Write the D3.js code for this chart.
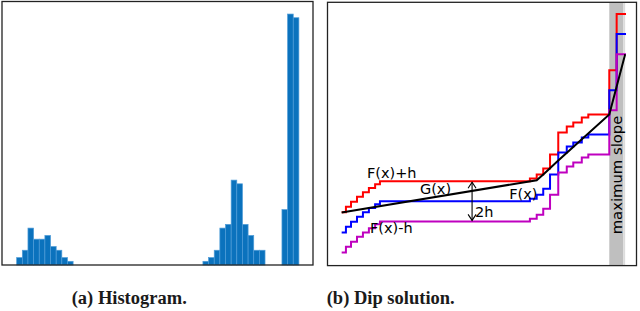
<!DOCTYPE html>
<html>
<head>
<meta charset="utf-8">
<script src="https://cdn.jsdelivr.net/npm/d3@7"></script>
<style>
body{margin:0;background:#fff;}
.caption{font-family:"Liberation Serif",serif;font-weight:bold;font-size:18.5px;fill:#1a1a1a;}
.lbl{font-family:"DejaVu Sans",sans-serif;font-size:14.5px;fill:#000;}
</style>
</head>
<body>
<div id="chart"></div>
<script>
// histogram counts per bin (50 bins)
var histCounts=[2,4,10,7,7,8,5,4,2,1,
    0,0,0,0,0,0,0,0,0,0,0,0,0,0,0,0,0,0,0,0,0,0,0,
    1,2,4,10,11,23,22,11,8,4,4,
    0,0,0,
    15,68,67];

// empirical cdf F(x), step after each x
var ecdfX=[0,1.5,3.3,5.4,7.5,9.6,11.8,13.5,66.4,68.8,71.1,73.5,76.4,79.4,81.7,84.7,87.0,94.4,97.0,100.3];
var ecdfF=[0.012,0.04,0.065,0.09,0.112,0.133,0.152,0.1667,0.18,0.20,0.23,0.30,0.41,0.44,0.46,0.485,0.50,0.72,1.0,1.0];
var hValue=0.1;

// unimodal fit G(x)
var gX=[0,68.8,71.5,76.4,94.4,100];
var gF=[0.111,0.272,0.305,0.37,0.60,0.90];

// maximum slope interval
var bandX=[94.4,99.3];

var captions=['(a) Histogram.','(b) Dip solution.'];

var svg=d3.select('#chart').append('svg')
    .attr('width',640)
    .attr('height',311);

/* ---- (a) histogram ---- */
var hx=d3.scaleLinear().domain([-2.6,52.5]).range([2,313]);
var hy=d3.scaleLinear().domain([0,71.4]).range([265,1.5]);

var bins=histCounts.map(function(c,i){return {i:i,c:c};}).filter(function(d){return d.c>0;});

svg.append('g').selectAll('rect')
    .data(bins)
    .enter()
    .append('rect')
    .attr('x',function(d){return hx(d.i);})
    .attr('y',function(d){return hy(d.c);})
    .attr('width',function(d){return hx(d.i+1)-hx(d.i);})
    .attr('height',function(d){return hy(0)-hy(d.c);})
    .attr('fill','#0b72bd')
    .attr('stroke','#4f9cd8')
    .attr('stroke-width',0.7);

svg.append('rect')
    .attr('x',2).attr('y',1.5)
    .attr('width',311).attr('height',263.5)
    .attr('fill','none')
    .attr('stroke','#222')
    .attr('stroke-width',1.3);

/* ---- (b) dip solution ---- */
var dx=d3.scaleLinear().domain([-5,104]).range([327.5,636.5]);
var dy=d3.scaleLinear().domain([-0.153,1.16]).range([265.5,2]);

var g=svg.append('g');

g.append('rect')
    .attr('x',dx(bandX[0]))
    .attr('y',dy(1.16)+1)
    .attr('width',dx(bandX[1])-dx(bandX[0]))
    .attr('height',dy(-0.153)-dy(1.16)-1)
    .attr('fill','#bfbfbf');
g.append('rect')
    .attr('x',dx(bandX[1]))
    .attr('y',dy(1.16)+1)
    .attr('width',dx(100)-dx(bandX[1]))
    .attr('height',dy(-0.153)-dy(1.16)-1)
    .attr('fill','#dcdcdc');

var pts=ecdfX.map(function(x,i){return {x:x,f:ecdfF[i]};});

function stepLine(off){
    return d3.line()
        .x(function(d){return dx(d.x);})
        .y(function(d){return dy(d.f+off);})
        .curve(d3.curveStepAfter);
}

var series=[
    {off:hValue,color:'#ff0000'},
    {off:0,color:'#0000ff'},
    {off:-hValue,color:'#bf00bf'}
];
series.forEach(function(s){
    g.append('path')
        .datum(pts)
        .attr('d',stepLine(s.off))
        .attr('fill','none')
        .attr('stroke',s.color)
        .attr('stroke-width',2);
});

var gPts=gX.map(function(x,i){return {x:x,f:gF[i]};});
g.append('path')
    .datum(gPts)
    .attr('d',d3.line()
        .x(function(d){return dx(d.x);})
        .y(function(d){return dy(d.f);}))
    .attr('fill','none')
    .attr('stroke','#000')
    .attr('stroke-width',2);

// double arrow 2h
var ax=dx(46.0), aTop=dy(0.1667+hValue), aBot=dy(0.1667-hValue);
g.append('line')
    .attr('x1',ax).attr('x2',ax)
    .attr('y1',aTop+1).attr('y2',aBot-1)
    .attr('stroke','#000').attr('stroke-width',1.1);
g.append('path')
    .attr('d','M'+(ax-4)+','+(aTop+7)+'L'+ax+','+(aTop+1)+'L'+(ax+4)+','+(aTop+7)
        +'M'+(ax-4)+','+(aBot-7)+'L'+ax+','+(aBot-1)+'L'+(ax+4)+','+(aBot-7))
    .attr('fill','none')
    .attr('stroke','#000')
    .attr('stroke-width',1.1);

var labels=[
    {t:'F(x)+h',x:8.9,f:0.283},
    {t:'G(x)',x:27.6,f:0.203},
    {t:'F(x)',x:59.1,f:0.178},
    {t:'2h',x:47.0,f:0.091},
    {t:'F(x)-h',x:10.0,f:0.011}
];
g.selectAll('.lbl')
    .data(labels)
    .enter()
    .append('text')
    .attr('class','lbl')
    .attr('x',function(d){return dx(d.x);})
    .attr('y',function(d){return dy(d.f);})
    .text(function(d){return d.t;});

g.append('text')
    .attr('class','lbl')
    .attr('text-anchor','middle')
    .attr('transform','translate('+dx(99.0)+','+dy(0.298)+') rotate(-90)')
    .style('font-size','14.8px')
    .text('maximum slope');

svg.append('rect')
    .attr('x',327.5).attr('y',2.3)
    .attr('width',309).attr('height',263.3)
    .attr('fill','none')
    .attr('stroke','#222')
    .attr('stroke-width',1.3);

/* ---- captions ---- */
svg.selectAll('.caption')
    .data(captions)
    .enter()
    .append('text')
    .attr('class','caption')
    .attr('x',function(d,i){return i===0?71.7:326.7;})
    .attr('y',303.5)
    .text(function(d){return d;});
</script>
</body>
</html>
